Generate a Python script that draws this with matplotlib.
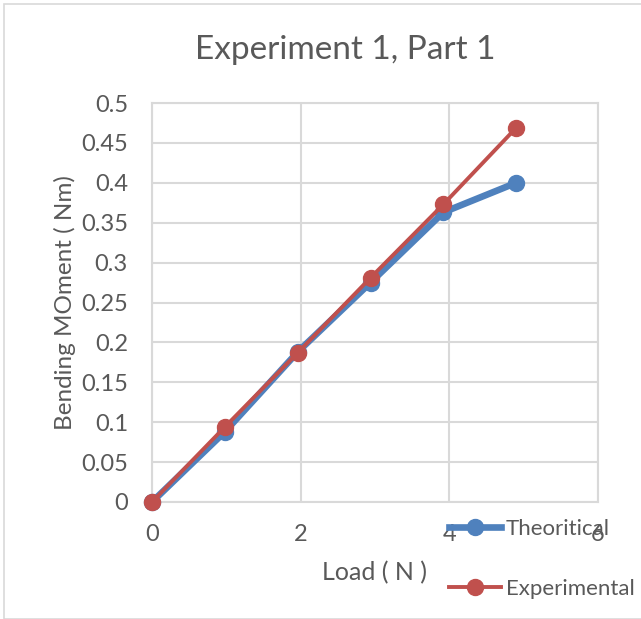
import matplotlib
matplotlib.use("Agg")
import matplotlib.pyplot as plt
from matplotlib.patches import Rectangle

load = [0, 0.98, 1.96, 2.94, 3.92, 4.9]
theoretical = [0, 0.088, 0.188, 0.275, 0.363, 0.400]
experimental = [0, 0.094, 0.187, 0.281, 0.373, 0.469]
xticks = [0, 2, 4, 6]
yticks = [0, 0.05, 0.1, 0.15, 0.2, 0.25, 0.3, 0.35, 0.4, 0.45, 0.5]
ytick_labels = ["0", "0.05", "0.1", "0.15", "0.2", "0.25", "0.3", "0.35", "0.4", "0.45", "0.5"]

plt.rcParams['font.family'] = ['Lato', 'DejaVu Sans']
txt = '#595959'
grid = '#D9D9D9'
blue = '#4F81BD'
red = '#C0504D'

W, H = 641, 619
fig = plt.figure(figsize=(W/100, H/100), dpi=100)
fig.patches.append(Rectangle((4/W, 0), 1, 1 - 4/H, transform=fig.transFigure,
                             fill=False, edgecolor=grid, linewidth=1.2))

l, r, t, b = 152, 598, 103, 502
ax = fig.add_axes([l/W, 1 - b/H, (r-l)/W, (b-t)/H])
ax.set_xlim(0, 6)
ax.set_ylim(0, 0.5)
ax.set_xticks(xticks)
ax.set_yticks(yticks)
ax.set_yticklabels(ytick_labels)
ax.grid(True, color=grid, linewidth=1.5)
ax.set_axisbelow(True)
for s in ax.spines.values():
    s.set_color(grid)
    s.set_linewidth(1.5)
ax.tick_params(length=0, labelsize=17, colors=txt)
ax.tick_params(axis='y', pad=17.3)
ax.tick_params(axis='x', pad=15.5)

l1, = ax.plot(load, theoretical, color=blue, linewidth=4.8, marker='o', markersize=11.5,
              label='Theoritical', clip_on=False, zorder=3)
l2, = ax.plot(load, experimental, color=red, linewidth=2.8, marker='o', markersize=11.5,
              label='Experimental', clip_on=False, zorder=4)

fig.text(345/W, 1 - 50/H, 'Experiment 1, Part 1', ha='center', va='center',
         fontsize=24, color=txt)
fig.text(375/W, 1 - 573/H, 'Load ( N )', ha='center', va='center', fontsize=18, color=txt)
fig.text(65/W, 1 - 303/H, 'Bending MOment ( Nm)', ha='center', va='center', fontsize=17.5,
         color=txt, rotation=90)

leg = fig.legend(handles=[l1, l2], loc='upper left', bbox_to_anchor=(449/W, 1 - 519/H),
                 frameon=False, fontsize=16, labelcolor=txt, handlelength=2.35,
                 handletextpad=0.22, labelspacing=1.78, borderpad=0, borderaxespad=0)

fig.savefig('out.png', dpi=100)
